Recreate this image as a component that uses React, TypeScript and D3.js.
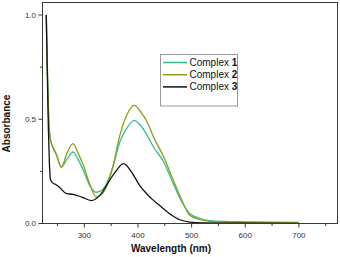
import * as d3 from 'd3';

// wavelengths (nm) and absorbance
const wl1 = [229, 231, 233, 235, 238, 241, 248, 257, 268, 279, 288, 298, 310, 322, 330, 338, 353, 366, 380, 393, 405, 417, 429, 448, 466, 482, 497, 516, 534, 560, 600, 700];
const complex1 = [1.0, 0.75, 0.55, 0.44, 0.39, 0.365, 0.33, 0.27, 0.31, 0.343, 0.31, 0.255, 0.183, 0.15, 0.155, 0.175, 0.27, 0.39, 0.46, 0.495, 0.47, 0.423, 0.367, 0.295, 0.19, 0.102, 0.047, 0.024, 0.014, 0.01, 0.008, 0.005];
const complex2 = [1.0, 0.75, 0.55, 0.44, 0.39, 0.37, 0.33, 0.27, 0.34, 0.383, 0.34, 0.279, 0.19, 0.127, 0.135, 0.159, 0.27, 0.42, 0.525, 0.567, 0.535, 0.487, 0.415, 0.319, 0.207, 0.11, 0.038, 0.018, 0.01, 0.007, 0.005, 0.003];

const wl3 = [229, 231, 233, 235, 237, 241, 248, 255, 267, 279, 295, 313, 329, 347, 360, 373, 388, 403, 419, 440, 459, 478, 496, 520, 600, 700];
const complex3 = [1.0, 0.72, 0.45, 0.28, 0.21, 0.195, 0.185, 0.17, 0.143, 0.14, 0.127, 0.11, 0.135, 0.207, 0.255, 0.287, 0.247, 0.183, 0.135, 0.087, 0.047, 0.018, 0.007, 0.003, 0.002, 0.001];

const xTicks = [300, 400, 500, 600, 700];
const xMinor = [250, 350, 450, 550, 650, 750];
const yTicks = [0, 0.5, 1.0];
const yMinor = [0.25, 0.75];

const seriesNames = ['Complex ', 'Complex ', 'Complex '];
const seriesNums = ['1', '2', '3'];
const colors = ['#2fbf95', '#8c9e16', '#111111'];

export default function App() {
  const width = 340;
  const height = 257;

  const x = d3.scaleLinear().domain([222, 772]).range([42.5, 337.5]);
  const y = d3.scaleLinear().domain([0, 1.06]).range([223.5, 2.5]);

  const line = d3
    .line<[number, number]>()
    .x(d => x(d[0]))
    .y(d => y(d[1]))
    .curve(d3.curveMonotoneX);

  const series = [
    wl1.map((w, i) => [w, complex1[i]] as [number, number]),
    wl1.map((w, i) => [w, complex2[i]] as [number, number]),
    wl3.map((w, i) => [w, complex3[i]] as [number, number]),
  ];

  const axisColor = '#3a3a3a';
  const font = 'Arial, "Liberation Sans", sans-serif';

  return (
    <svg
      width={width}
      height={height}
      style={{ position: 'absolute', left: 0, top: 0, background: '#fff' }}
      fontFamily={font}
    >
      {/* curves */}
      {series.map((s, i) => (
        <path key={i} d={line(s) || ''} fill="none" stroke={colors[i]} strokeWidth={1.3} />
      ))}

      {/* frame */}
      <rect
        x={x.range()[0]}
        y={y.range()[1]}
        width={x.range()[1] - x.range()[0]}
        height={y.range()[0] - y.range()[1]}
        fill="none"
        stroke={axisColor}
        strokeWidth={1}
      />

      {/* x ticks */}
      {xTicks.map(t => (
        <g key={t}>
          <line x1={x(t)} x2={x(t)} y1={y.range()[0]} y2={y.range()[0] + 4} stroke={axisColor} />
          <text x={x(t)} y={237.5} textAnchor="middle" fontSize={8} fill="#333">
            {t}
          </text>
        </g>
      ))}
      {xMinor.map(t => (
        <line key={t} x1={x(t)} x2={x(t)} y1={y.range()[0]} y2={y.range()[0] + 2.5} stroke={axisColor} />
      ))}

      {/* y ticks */}
      {yTicks.map(t => (
        <g key={t}>
          <line x1={x.range()[0] - 4} x2={x.range()[0]} y1={y(t)} y2={y(t)} stroke={axisColor} />
          <text x={36} y={y(t)} dy="0.35em" textAnchor="end" fontSize={8} fill="#333">
            {t.toFixed(1)}
          </text>
        </g>
      ))}
      {yMinor.map(t => (
        <line key={t} x1={x.range()[0] - 2.5} x2={x.range()[0]} y1={y(t)} y2={y(t)} stroke={axisColor} />
      ))}

      {/* axis titles */}
      <text
        transform="translate(10, 123.5) rotate(-90)"
        textAnchor="middle"
        fontSize={10}
        fontWeight="bold"
        fill="#111"
      >
        Absorbance
      </text>
      <text x={171} y={252} textAnchor="middle" fontSize={10} fontWeight="bold" fill="#111">
        Wavelength (nm)
      </text>

      {/* legend */}
      <rect x={160.5} y={54.5} width={77} height={51.5} fill="#fff" stroke="#9a9a9a" strokeWidth={1} />
      {seriesNums.map((n, i) => {
        const ly = 62.5 + i * 12.2;
        return (
          <g key={n}>
            <line x1={163} x2={187} y1={ly} y2={ly} stroke={colors[i]} strokeWidth={1.5} />
            <text x={189.5} y={ly} dy="0.35em" fontSize={10} fill="#111">
              {seriesNames[i]}
              <tspan fontWeight="bold">{n}</tspan>
            </text>
          </g>
        );
      })}
    </svg>
  );
}
